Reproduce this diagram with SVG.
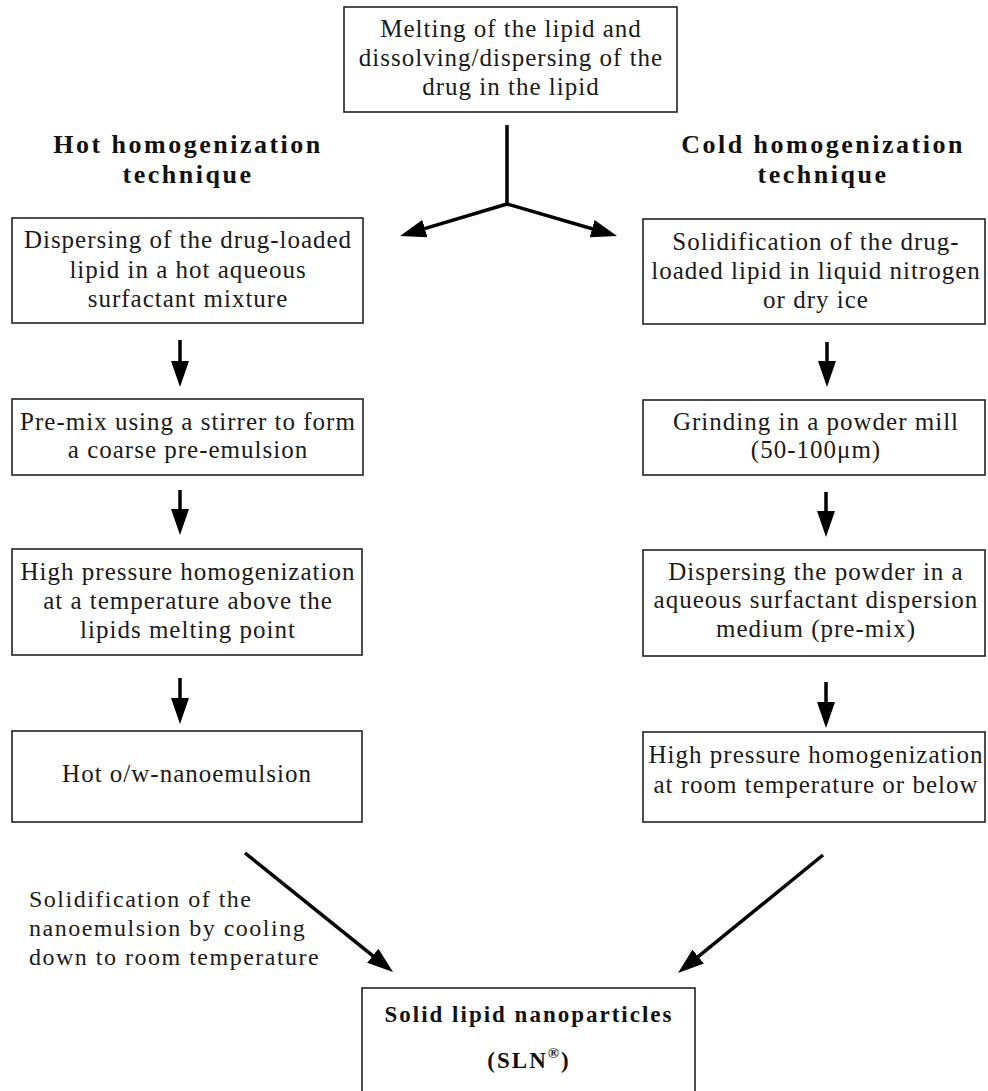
<svg xmlns="http://www.w3.org/2000/svg" width="988" height="1091" viewBox="0 0 988 1091">
<style>
.box{fill:#fff;stroke:#222;stroke-width:1.6}
text{font-family:'Liberation Serif','Times New Roman','DejaVu Serif',serif}
.t{font-size:25px;letter-spacing:1px;fill:#1a1a1a;text-anchor:middle}
.h{font-size:26px;font-weight:bold;letter-spacing:2.5px;fill:#111;text-anchor:middle}
.b{font-size:23px;font-weight:bold;letter-spacing:2px;fill:#111;text-anchor:middle}
.lab{font-size:24px;letter-spacing:1.5px;fill:#1a1a1a}
.c{stroke:#000;stroke-width:3.5;fill:none;marker-end:url(#ah)}
</style>
<defs>
<marker id="ah" markerUnits="userSpaceOnUse" markerWidth="26" markerHeight="18" refX="17" refY="9" orient="auto">
<path d="M0,0 L26,9 L0,18 z" fill="#000"/>
</marker>
</defs>
<rect width="988" height="1091" fill="#fff"/>

<g id="start">
<rect class="box" x="344" y="7" width="333" height="105"/>
<text class="t" x="511" y="37">Melting of the lipid and</text>
<text class="t" x="511" y="66">dissolving/dispersing of the</text>
<text class="t" x="511" y="95">drug in the lipid</text>
</g>

<g id="hot-heading">
<text class="h" x="188" y="153">Hot homogenization</text>
<text class="h" x="188" y="183">technique</text>
</g>
<g id="cold-heading">
<text class="h" x="823" y="153">Cold homogenization</text>
<text class="h" x="823" y="183">technique</text>
</g>

<g id="hot1">
<rect class="box" x="12" y="218" width="351" height="105"/>
<text class="t" x="188" y="248">Dispersing of the drug-loaded</text>
<text class="t" x="188" y="278">lipid in a hot aqueous</text>
<text class="t" x="188" y="307">surfactant mixture</text>
</g>
<g id="hot2">
<rect class="box" x="12" y="399" width="351" height="76"/>
<text class="t" x="188" y="430">Pre-mix using a stirrer to form</text>
<text class="t" x="188" y="458">a coarse pre-emulsion</text>
</g>
<g id="hot3">
<rect class="box" x="12" y="549" width="350" height="106"/>
<text class="t" x="188" y="580">High pressure homogenization</text>
<text class="t" x="188" y="609">at a temperature above the</text>
<text class="t" x="188" y="638">lipids melting point</text>
</g>
<g id="hot4">
<rect class="box" x="12" y="731" width="350" height="91"/>
<text class="t" x="187" y="782">Hot o/w-nanoemulsion</text>
</g>

<g id="cold1">
<rect class="box" x="643" y="219" width="342" height="105"/>
<text class="t" x="816" y="250">Solidification of the drug-</text>
<text class="t" x="816" y="279">loaded lipid in liquid nitrogen</text>
<text class="t" x="816" y="308">or dry ice</text>
</g>
<g id="cold2">
<rect class="box" x="643" y="400" width="342" height="75"/>
<text class="t" x="816" y="430">Grinding in a powder mill</text>
<text class="t" x="816" y="458">(50-100μm)</text>
</g>
<g id="cold3">
<rect class="box" x="643" y="550" width="342" height="106"/>
<text class="t" x="816" y="580">Dispersing the powder in a</text>
<text class="t" x="816" y="608">aqueous surfactant dispersion</text>
<text class="t" x="816" y="637">medium (pre-mix)</text>
</g>
<g id="cold4">
<rect class="box" x="643" y="732" width="342" height="90"/>
<text class="t" x="816" y="763">High pressure homogenization</text>
<text class="t" x="816" y="793">at room temperature or below</text>
</g>

<g id="sln">
<rect class="box" x="362" y="988" width="333" height="120"/>
<text class="b" x="529" y="1022">Solid lipid nanoparticles</text>
<text class="b" x="529" y="1068">(SLN<tspan font-size="15" dy="-10">®</tspan><tspan dy="10">)</tspan></text>
</g>

<g id="label">
<text class="lab" x="29" y="907">Solidification of the</text>
<text class="lab" x="29" y="936">nanoemulsion by cooling</text>
<text class="lab" x="29" y="965">down to room temperature</text>
</g>

<g id="connectors">
<line x1="507" y1="125" x2="507" y2="205" stroke="#000" stroke-width="3.5"/>
<line class="c" x1="507" y1="204" x2="408.6" y2="233.4"/>
<line class="c" x1="507" y1="204" x2="608.4" y2="233.5"/>
<line class="c" x1="180" y1="340" x2="180" y2="378"/>
<line class="c" x1="180" y1="490" x2="180" y2="526"/>
<line class="c" x1="180" y1="678" x2="180" y2="715"/>
<line class="c" x1="827" y1="342" x2="827" y2="378"/>
<line class="c" x1="826" y1="492" x2="826" y2="528"/>
<line class="c" x1="826" y1="682" x2="826" y2="719"/>
<line class="c" x1="245" y1="853" x2="386" y2="966.4"/>
<line class="c" x1="823" y1="855" x2="685" y2="967.3"/>
</g>
</svg>
